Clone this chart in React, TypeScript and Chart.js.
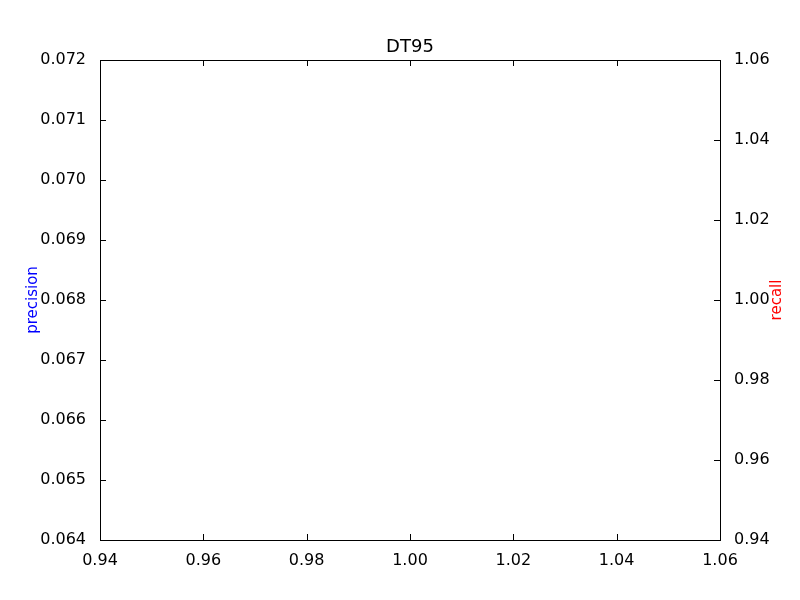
import * as React from 'react';
import {useRef, useEffect} from 'react';
import {Chart, registerables} from 'chart.js';

Chart.register(...registerables);

const chartTitle = 'DT95';
const thresholds: number[] = [];
const precision: number[] = [];
const recall: number[] = [];
const FONT = 'DejaVu Sans';

const tickMarks = {
  id: 'tickMarks',
  afterDraw(chart: any) {
    const {ctx, chartArea: a, scales} = chart;
    ctx.save();
    ctx.strokeStyle = '#000';
    ctx.lineWidth = 1;
    ctx.beginPath();
    scales.x.ticks.forEach((t: any) => {
      const px = Math.round(scales.x.getPixelForValue(t.value)) + 0.5;
      ctx.moveTo(px, a.bottom); ctx.lineTo(px, a.bottom - 6);
      ctx.moveTo(px, a.top); ctx.lineTo(px, a.top + 6);
    });
    scales.y.ticks.forEach((t: any) => {
      const py = Math.round(scales.y.getPixelForValue(t.value)) + 0.5;
      ctx.moveTo(a.left, py); ctx.lineTo(a.left + 6, py);
    });
    scales.y1.ticks.forEach((t: any) => {
      const py = Math.round(scales.y1.getPixelForValue(t.value)) + 0.5;
      ctx.moveTo(a.right, py); ctx.lineTo(a.right - 6, py);
    });
    ctx.stroke();
    ctx.strokeRect(a.left + 0.5, a.top + 0.5, a.right - a.left, a.bottom - a.top);
    ctx.fillStyle = '#000';
    ctx.font = `18px ${FONT}`;
    ctx.textAlign = 'center';
    ctx.textBaseline = 'bottom';
    ctx.fillText(chartTitle, (a.left + a.right) / 2, a.top - 4);
    ctx.font = `15px ${FONT}`;
    ctx.textBaseline = 'middle';
    ctx.fillStyle = 'blue';
    ctx.translate(33, (a.top + a.bottom) / 2);
    ctx.rotate(-Math.PI / 2);
    ctx.fillText('precision', 0, 0);
    ctx.restore();
    ctx.save();
    ctx.font = `15px ${FONT}`;
    ctx.textAlign = 'center';
    ctx.textBaseline = 'middle';
    ctx.fillStyle = 'red';
    ctx.translate(777, (a.top + a.bottom) / 2);
    ctx.rotate(-Math.PI / 2);
    ctx.fillText('recall', 0, 0);
    ctx.restore();
  },
};

export default function App(): JSX.Element {
  const canvasRef = useRef<HTMLCanvasElement>(null);
  useEffect(() => {
    if (!canvasRef.current) return;
    const tickFont = {family: FONT, size: 16};
    const chart = new Chart(canvasRef.current, {
      type: 'line',
      data: {
        datasets: [
          {label: 'precision', data: thresholds.map((x, i) => ({x, y: precision[i]})), borderColor: 'blue', yAxisID: 'y'},
          {label: 'recall', data: thresholds.map((x, i) => ({x, y: recall[i]})), borderColor: 'red', yAxisID: 'y1'},
        ],
      },
      options: {
        animation: false,
        responsive: false,
        layout: {padding: {top: 60}},
        plugins: {legend: {display: false}, tooltip: {enabled: false}},
        scales: {
          x: {
            type: 'linear', min: 0.94, max: 1.06,
            grid: {display: false}, border: {display: false},
            ticks: {stepSize: 0.02, color: '#000', font: tickFont, padding: 3, maxRotation: 0,
              callback: (v: any) => Number(v).toFixed(2)},
            afterFit: (s: any) => { s.height = 60; },
          },
          y: {
            type: 'linear', position: 'left', min: 0.064, max: 0.072,
            grid: {display: false}, border: {display: false},
            ticks: {stepSize: 0.001, color: '#000', font: tickFont, padding: 6,
              callback: (v: any) => Number(v).toFixed(3)},
            afterFit: (s: any) => { s.width = 100; },
          },
          y1: {
            type: 'linear', position: 'right', min: 0.94, max: 1.06,
            grid: {display: false}, border: {display: false},
            ticks: {stepSize: 0.02, color: '#000', font: tickFont, padding: 6,
              callback: (v: any) => Number(v).toFixed(2)},
            afterFit: (s: any) => { s.width = 80; },
          },
        },
      },
      plugins: [tickMarks],
    });
    return () => chart.destroy();
  }, []);

  return (
    <div style={{position: 'absolute', left: 0, top: 0, width: 800, height: 600, background: '#fff'}}>
      <canvas ref={canvasRef} width={800} height={600} />
    </div>
  );
}
